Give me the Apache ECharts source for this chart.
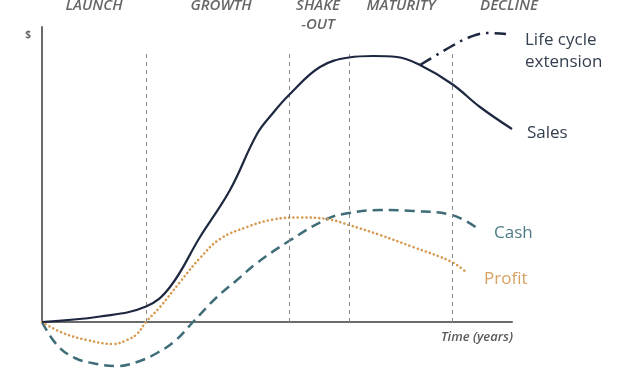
<!DOCTYPE html>
<html>
<head>
<meta charset="utf-8">
<script src="https://cdn.jsdelivr.net/npm/echarts@6/dist/echarts.min.js"></script>
<style>
html,body{margin:0;padding:0;background:#fff;}
#c{width:625px;height:375px;}
</style>
</head>
<body>
<div id="c"></div>
<script>
// Time axis (arbitrary units) and $ values
const salesX  = [0, 58, 104, 128, 158, 188, 215, 231, 247, 278, 307, 331, 355, 378, 410, 438, 470];
const salesY  = [0, 5.5, 15.5, 35, 85, 132, 188, 209, 227, 255, 264.5, 266, 265, 257, 238, 215, 193];
const extX    = [378, 393, 410, 428, 446, 464];
const extY    = [257, 266, 276, 285, 289, 288];
const cashX   = [0, 15, 33, 55, 75, 95, 115, 133, 151, 175, 195, 215, 247, 285, 307, 338, 371, 410, 435];
const cashY   = [0, -23, -36, -42, -44, -40, -31, -19, 0, 25, 42, 59, 81, 103, 109, 112, 111, 107, 94];
const profitX = [0, 21, 45, 71, 85, 95, 104, 118, 138, 158, 178, 205, 231, 258, 285, 307, 338, 371, 410, 425];
const profitY = [0, -11, -18, -22, -18, -12, 0, 15, 40, 64, 83, 95, 102.5, 104.5, 103, 97, 87, 75, 60, 49];

const phaseNames = ['LAUNCH', 'GROWTH', 'SHAKE\n-OUT', 'MATURITY', 'DECLINE'];
const phaseLabelX = [52, 179, 276, 359, 467];
const phaseBoundaries = [104, 247, 307, 410];
const boundaryTop = 272;
const axisMax = { x: 470, y: 295 };

const zip = (xs, ys) => xs.map((x, i) => [x, ys[i]]);
const FONT = '"Open Sans", "Noto Sans", sans-serif';

const chart = echarts.init(document.getElementById('c'), null, { renderer: 'canvas' });

const option = {
  animation: false,
  grid: { left: 42, right: 113, top: 27, bottom: 53 },
  xAxis: {
    type: 'value', min: 0, max: axisMax.x,
    axisLine: { show: true, lineStyle: { color: '#6b6b6b', width: 2 } },
    axisTick: { show: false }, axisLabel: { show: false }, splitLine: { show: false }
  },
  yAxis: {
    type: 'value', min: 0, max: axisMax.y,
    axisLine: { show: true, lineStyle: { color: '#6b6b6b', width: 2 } },
    axisTick: { show: false }, axisLabel: { show: false }, splitLine: { show: false }
  },
  series: [
    {
      name: 'Sales', type: 'line', data: zip(salesX, salesY), smooth: 0.4, clip: false,
      showSymbol: false, symbol: 'none',
      lineStyle: { color: '#1d2740', width: 2.2 },
      endLabel: { show: true, formatter: 'Sales', distance: 0, offset: [15, 4],
        fontFamily: FONT, fontSize: 17, color: '#34404f' },
      markLine: {
        silent: true, symbol: ['none', 'none'],
        label: { show: false },
        lineStyle: { color: '#8a8a8a', width: 1, type: [4, 4] },
        data: phaseBoundaries.map(x => [{ coord: [x, 0] }, { coord: [x, boundaryTop] }])
      },
      z: 5
    },
    {
      name: 'Life cycle extension', type: 'line', data: zip(extX, extY), smooth: 0.4, clip: false,
      showSymbol: false, symbol: 'none',
      lineStyle: { color: '#1d2740', width: 2.5, type: [13, 6, 2.5, 6] },
      endLabel: { show: true, formatter: 'Life cycle\nextension', distance: 0, offset: [19, 17],
        fontFamily: FONT, fontSize: 17, lineHeight: 22, color: '#34404f' },
      z: 5
    },
    {
      name: 'Cash', type: 'line', data: zip(cashX, cashY), smooth: 0.4, clip: false,
      showSymbol: false, symbol: 'none',
      lineStyle: { color: '#3e6d78', width: 2.5, type: [10, 6] },
      endLabel: { show: true, formatter: 'Cash', distance: 0, offset: [17, 5],
        fontFamily: FONT, fontSize: 17, color: '#4d7b85' },
      z: 4
    },
    {
      name: 'Profit', type: 'line', data: zip(profitX, profitY), smooth: 0.4, clip: false,
      showSymbol: false, symbol: 'none',
      lineStyle: { color: '#d69a52', width: 2.6, type: [0.1, 4.2], cap: 'round' },
      endLabel: { show: true, formatter: 'Profit', distance: 0, offset: [17, 6],
        fontFamily: FONT, fontSize: 17, color: '#d6a163' },
      z: 4
    }
  ]
};
chart.setOption(option);

const graphics = phaseNames.map((n, i) => ({
  type: 'text',
  x: chart.convertToPixel({ xAxisIndex: 0 }, phaseLabelX[i]),
  y: -4,
  style: { text: n, font: 'italic 600 15px ' + FONT, fill: '#666', align: 'center', verticalAlign: 'top', lineHeight: 19 }
}));
graphics.push({
  type: 'text', x: 28, y: 35,
  style: { text: '$', font: 'bold 10px ' + FONT, fill: '#666', align: 'center', verticalAlign: 'middle' }
});
graphics.push({
  type: 'text', x: 513, y: 337,
  style: { text: 'Time (years)', font: 'italic 600 13px ' + FONT, fill: '#5a5a5a', align: 'right', verticalAlign: 'middle' }
});
chart.setOption({ graphic: graphics });
</script>
</body>
</html>
